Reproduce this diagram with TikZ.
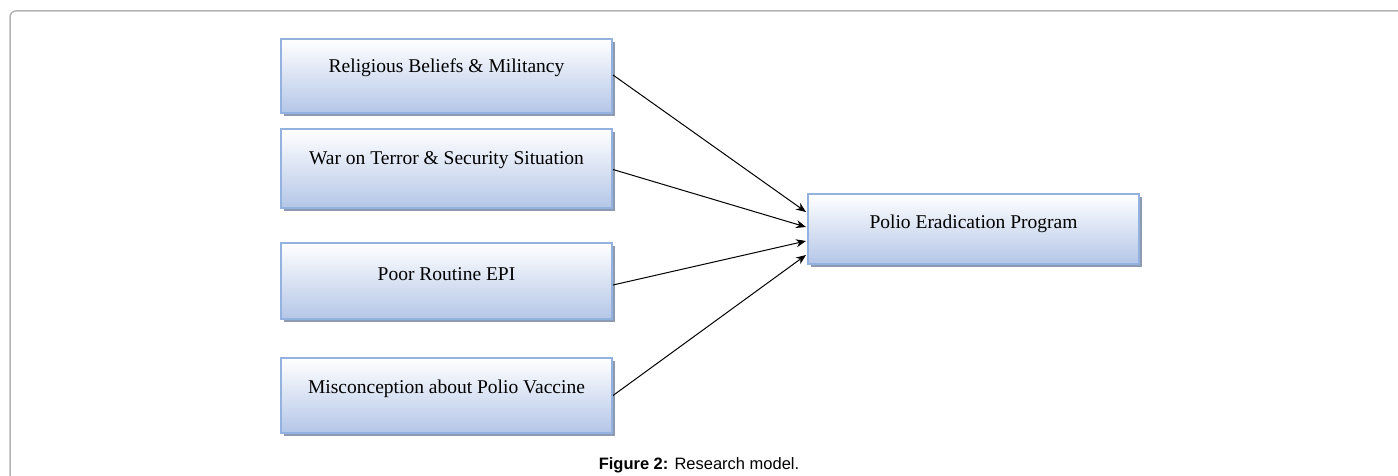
\documentclass[tikz,border=0pt]{standalone}
\usepackage{fontspec}
\setmainfont{Liberation Serif}
\newfontfamily\capfont{Liberation Sans}
\usetikzlibrary{arrows.meta}
\definecolor{boxborder}{HTML}{94B2E0}
\definecolor{boxbottom}{HTML}{B4C6E7}
\definecolor{boxshadow}{HTML}{8E9AB2}
\definecolor{framegray}{HTML}{B4B4B4}
\tikzset{
  factor/.style={draw=boxborder, line width=2pt, top color=white, bottom color=boxbottom,
    minimum width=331pt, minimum height=75pt, inner sep=0pt, anchor=north west,
    font=\fontsize{19.5}{22}\selectfont},
  conn/.style={line width=1pt, -{Stealth[length=10pt,width=8pt]}}
}
\begin{document}
\begin{tikzpicture}[x=1pt,y=-1pt]
\useasboundingbox (0,0) rectangle (1398,476);
\fill[white] (0,0) rectangle (1398,476);
\draw[framegray, line width=1.5pt] (10,476) -- (10,17) arc[start angle=180, end angle=270, radius=6] -- (1398,11);
% shadows
\fill[boxshadow] (284,42) rectangle (615,116);
\fill[boxshadow] (284,132) rectangle (615,211);
\fill[boxshadow] (284,246) rectangle (615,322);
\fill[boxshadow] (284,361) rectangle (615,436);
\fill[boxshadow] (811,197) rectangle (1142,267);
% boxes
\node[factor, minimum height=74pt] (a) at (280,38) {\raisebox{20pt}{Religious Beliefs \& Militancy}};
\node[factor, minimum height=79pt] (b) at (280,128) {\raisebox{20pt}{War on Terror \& Security Situation}};
\node[factor, minimum height=76pt] (c) at (280,242) {\raisebox{14pt}{Poor Routine EPI}};
\node[factor, minimum height=75pt] (d) at (280,357) {\raisebox{18pt}{Misconception about Polio Vaccine}};
\node[factor, minimum height=70pt] (t) at (807,193) {\raisebox{14pt}{Polio Eradication Program}};
% connectors
\coordinate (t1) at (806,212);
\coordinate (t2) at (806,227);
\coordinate (t3) at (806,241);
\coordinate (t4) at (806,255);
\draw[conn] ([yshift=1pt]a.east) -- (t1);
\draw[conn] ([yshift=-1pt]b.east) -- (t2);
\draw[conn] ([yshift=-4pt]c.east) -- (t3);
\draw[conn] (d.east) -- (t4);
\node[font=\capfont\fontsize{16.5}{19}\selectfont, anchor=base] (cap) at (699,469) {\textbf{Figure 2:} Research model.};
\end{tikzpicture}
\end{document}
